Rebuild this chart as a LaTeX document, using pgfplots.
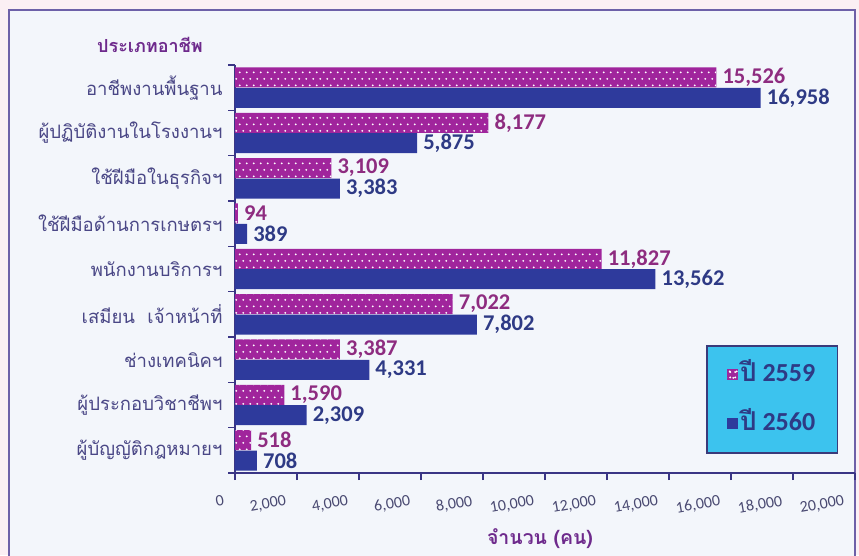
\documentclass[border=0pt]{standalone}
\usepackage{pgfplots}
\pgfplotsset{compat=1.18}
\usepackage{fontspec}
\setmainfont{Carlito}
\newfontfamily\thaifont[Script=Thai]{Loma}
\usetikzlibrary{patterns.meta}
\definecolor{outerbg}{HTML}{FBEFF4}
\definecolor{innerbg}{HTML}{F3F6FB}
\definecolor{frameC}{HTML}{6D60A8}
\definecolor{pinkbar}{HTML}{A0259C}
\definecolor{bluebar}{HTML}{2E3A9C}
\definecolor{pinklab}{HTML}{8E2C80}
\definecolor{bluelab}{HTML}{2E3A85}
\definecolor{axisC}{HTML}{3A3585}
\definecolor{ylabC}{HTML}{4A4786}
\definecolor{xtickC}{HTML}{4A4A72}
\definecolor{titleC}{HTML}{6E2A8C}
\definecolor{legfill}{HTML}{3CC3EE}
\definecolor{legdraw}{HTML}{3A3A7A}
\tikzdeclarepattern{
  name=bigdots,
  type=uncolored,
  bottom left={(-1pt,-1pt)},
  top right={(8pt,14pt)},
  tile size={(7pt,13pt)},
  code={
    \pgfpathcircle{\pgfpoint{1.75pt}{1.6pt}}{1.05pt}
    \pgfpathcircle{\pgfpoint{5.25pt}{8.1pt}}{1.05pt}
    \pgfusepath{fill}
  }
}
\begin{document}
\begin{tikzpicture}[x=1pt,y=1pt]
\fill[outerbg] (0,0) rectangle (859,555);
\clip (0,0) rectangle (859,555);
\fill[innerbg] (9,-10) rectangle (855,545);
\draw[frameC,line width=2pt] (9,-10) rectangle (855,545);
\begin{axis}[
  at={(235pt,82pt)}, anchor=south west,
  scale only axis, width=620pt, height=408pt,
  xbar, xmin=0, xmax=20000, ymin=-0.5, ymax=8.5,
  axis x line=bottom, axis y line=left,
  axis line style={-, draw=axisC, line width=1.5pt},
  xtick={0,2000,...,20000},
  scaled x ticks=false,
  xticklabel style={/pgf/number format/1000 sep={,}, font=\fontsize{16}{18}\selectfont, text=xtickC, rotate=10, anchor=north east, yshift=-9pt, xshift=-11pt},
  /pgf/number format/assume math mode=true,
  ytick={-0.5,0.5,...,8.5},
  yticklabels={ผู้บัญญัติกฎหมายฯ, ผู้ประกอบวิชาชีพฯ, ช่างเทคนิคฯ, เสมียน\ \ เจ้าหน้าที่, พนักงานบริการฯ, ใช้ฝีมือด้านการเกษตรฯ, ใช้ฝีมือในธุรกิจฯ, ผู้ปฏิบัติงานในโรงงานฯ, อาชีพงานพื้นฐาน, {}},
  yticklabel style={font=\thaifont\fontsize{18.5}{20}\selectfont, text=ylabC, yshift=22.67pt, xshift=-2pt},
  tick align=outside, major tick length=7pt,
  tick style={draw=axisC, line width=1.2pt},
  bar width=0.44,
  nodes near coords,
  nodes near coords style={/pgf/number format/1000 sep={,}, font=\bfseries\fontsize{22.5}{24}\selectfont, anchor=west, inner xsep=6pt},
  legend style={at={(rel axis cs:0.9726,0.3137)}, anchor=north east, fill=legfill, draw=legdraw, line width=1.5pt, inner xsep=20pt, inner ysep=17pt, row sep=25pt, font=\bfseries\fontsize{26}{28}\selectfont, text=bluelab, cells={anchor=west}, nodes={text height=17pt, text depth=3pt}},
]
\addplot[fill=pinkbar, draw=none, postaction={pattern={bigdots}, pattern color=white}, bar shift=0.225,
  every node near coord/.append style={text=pinklab},
  legend image code/.code={\fill[pinkbar] (0pt,-5.5pt) rectangle (11pt,5.5pt);
     \fill[white] (3pt,-2.7pt) circle (1.1pt) (8pt,-2.7pt) circle (1.1pt) (3pt,2.7pt) circle (1.1pt) (8pt,2.7pt) circle (1.1pt);}]
  coordinates {(15526,8) (8177,7) (3109,6) (94,5) (11827,4) (7022,3) (3387,2) (1590,1) (518,0)};
\addlegendentry{{\thaifont ปี} 2559}
\addplot[fill=bluebar, draw=none, bar shift=-0.225,
  every node near coord/.append style={text=bluelab},
  legend image code/.code={\fill[bluebar] (0pt,-5.5pt) rectangle (11pt,5.5pt);}]
  coordinates {(16958,8) (5875,7) (3383,6) (389,5) (13562,4) (7802,3) (4331,2) (2309,1) (708,0)};
\addlegendentry{{\thaifont ปี} 2560}
\end{axis}
\node[font=\thaifont\bfseries\fontsize{18}{20}\selectfont, text=titleC] at (150,510) {ประเภทอาชีพ};
\node[font=\thaifont\bfseries\fontsize{19.5}{21}\selectfont, text=titleC] at (540,16) {จำนวน (คน)};
\end{tikzpicture}
\end{document}
